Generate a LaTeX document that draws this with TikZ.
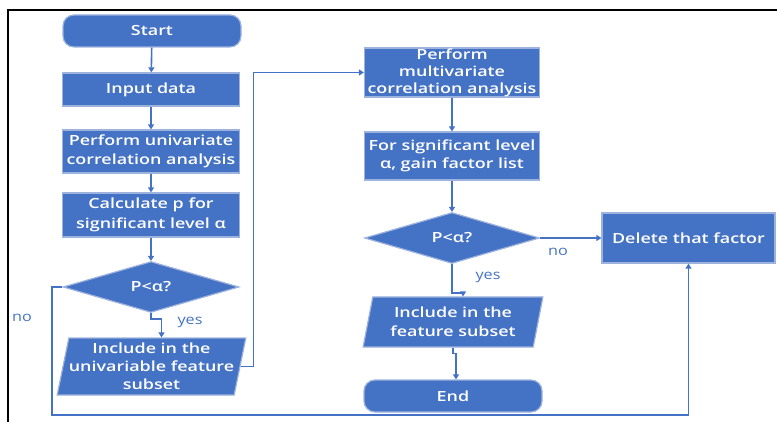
\documentclass[tikz,border=0pt]{standalone}
\usepackage{fontspec}
\setmainfont{Open Sans}
\newfontfamily\bxf{Open Sans}[FakeStretch=1.28, BoldFont={Open Sans Semibold}]
\newfontfamily\lbf{Open Sans}[FakeStretch=1.2]
\usetikzlibrary{shapes.geometric,arrows.meta}
\definecolor{boxblue}{HTML}{4472C4}
\definecolor{edgeblue}{HTML}{9DB3DE}
\definecolor{lineblue}{HTML}{4472C4}
\tikzset{
  base/.style={fill=boxblue, draw=edgeblue, line width=1.2pt, text=white,
    font=\bxf\bfseries\fontsize{14}{19.5}\selectfont, align=center, inner sep=0pt},
  procbox/.style={base, rectangle, minimum width=#1},
  procbox/.default=177pt,
  termbox/.style={base, rectangle, rounded corners=11pt, minimum width=178pt, minimum height=32pt},
  decbox/.style={base, diamond, minimum width=176pt, minimum height=47pt},
  iobox/.style={base, trapezium, trapezium left angle=76, trapezium right angle=104,
    trapezium stretches=true, minimum width=177pt},
  arr/.style={draw=lineblue, line width=1.6pt, -{Triangle[width=6pt,length=5pt]}},
  lbl/.style={text=lineblue, font=\lbf\fontsize{13.5}{15}\selectfont, inner sep=0pt}
}
\begin{document}
\begin{tikzpicture}[x=1pt,y=-1pt]
\useasboundingbox (0,0) rectangle (777,422);
\draw[black, line width=2pt] (777,10) -- (8,10) -- (8,423);

\node[termbox] (start) at (152,31) {Start};
\node[procbox, minimum height=33pt] (input) at (151,89.5) {Input data};
\node[procbox, minimum height=43pt] (univ) at (151,151.5) {Perform univariate\\correlation analysis};
\node[procbox, minimum height=44pt] (calc) at (151,215) {Calculate p for\\significant level α};
\node[decbox] (dec1) at (151,287) {P<α?};
\node[iobox, minimum height=57pt, font=\bxf\bfseries\fontsize{14}{18}\selectfont] (inc1) at (151.5,366.5) {Include in the\\univariable feature\\subset};

\node[procbox=175pt, minimum height=49pt, font=\bxf\bfseries\fontsize{14}{17}\selectfont] (multi) at (452,72.5) {Perform\\multivariate\\correlation analysis};
\node[procbox=175pt, minimum height=48pt, font=\bxf\bfseries\fontsize{14}{17.5}\selectfont] (gain) at (452,156) {For significant level\\α, gain factor list};
\node[decbox, minimum width=175pt] (dec2) at (452,238) {P<α?};
\node[procbox=173pt, minimum height=50pt] (del) at (688.5,238) {Delete that factor};
\node[iobox, minimum width=180pt, minimum height=50pt] (inc2) at (453,322) {Include in the\\feature subset};
\node[termbox] (end) at (453,396) {End};

\draw[arr] (start) -- (input);
\draw[arr] (input) -- (univ);
\draw[arr] (univ) -- (calc);
\draw[arr] (calc) -- (dec1);
\draw[arr] (dec1.south) -- ++(0,6) -| ([xshift=10pt]inc1.north);
\draw[arr] (inc1.east) -- ++(13,0) |- (multi.west);
\draw[arr] (multi) -- (gain);
\draw[arr] (gain) -- (dec2);
\draw[arr] (dec2.east) -- (del.west);
\draw[arr] (dec2.south) -- ++(0,29) -| ([xshift=10pt]inc2.north);
\draw[arr] (inc2.south) -- ++(0,6) -| ([xshift=3pt]end.north);
\coordinate (lb) at (52,415);
\draw[arr] (dec1.west) -| (lb) -| (del.south);

\node[lbl] (no1) at (22,318) {no};
\node[lbl] (yes1) at (190,322) {yes};
\node[lbl] (no2) at (558,252) {no};
\node[lbl] (yes2) at (488,277) {yes};
\end{tikzpicture}
\end{document}
